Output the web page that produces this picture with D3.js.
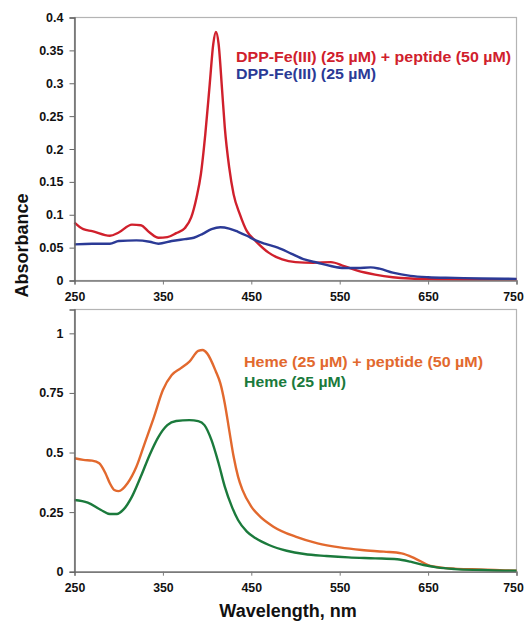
<!DOCTYPE html>
<html>
<head>
<meta charset="utf-8">
<script src="https://cdn.jsdelivr.net/npm/d3@7"></script>
<style>
  html, body { margin: 0; padding: 0; background: #fff; }
  svg { display: block; }
  text { font-family: "Liberation Sans", Arial, sans-serif; font-weight: bold; }
</style>
</head>
<body>
<svg id="chart" width="526" height="622"></svg>
<script>
// ---- Data ----
const xTicks = [250, 350, 450, 550, 650, 750];
const topYTicks = [0, 0.05, 0.1, 0.15, 0.2, 0.25, 0.3, 0.35, 0.4];
const bottomYTicks = [0, 0.25, 0.5, 0.75, 1];

// Top panel: DPP-Fe(III) (25 µM) + peptide (50 µM)
const dppPeptideWl = [250,260,270,290,300,315,325,335,345,355,365,375,382,388,393,398,403,407,410,413,417,420,425,430,437,445,455,470,485,500,520,540,555,570,590,610,630,660,700,750];
const dppPeptideAbs = [0.088,0.078,0.075,0.068,0.073,0.085,0.084,0.073,0.065,0.066,0.072,0.080,0.096,0.126,0.162,0.223,0.299,0.360,0.378,0.360,0.289,0.233,0.172,0.131,0.101,0.075,0.060,0.042,0.032,0.028,0.027,0.028,0.022,0.015,0.009,0.005,0.003,0.002,0.0015,0.0015];

// Top panel: DPP-Fe(III) (25 µM)
const dppWl = [250,270,290,300,320,335,345,360,375,385,395,405,415,425,435,445,455,465,480,495,510,525,540,555,570,585,595,610,630,650,680,710,750];
const dppAbs = [0.055,0.056,0.056,0.060,0.061,0.059,0.056,0.060,0.063,0.065,0.071,0.078,0.081,0.079,0.074,0.068,0.061,0.056,0.050,0.041,0.032,0.027,0.022,0.019,0.019,0.020,0.018,0.012,0.007,0.005,0.004,0.003,0.0025];

// Bottom panel: Heme (25 µM) + peptide (50 µM)
const hemePeptideWl = [250,260,270,278,285,290,295,300,310,320,330,340,350,360,370,380,390,395,400,410,415,420,425,430,435,440,450,460,475,500,525,550,575,600,620,635,650,665,680,700,725,750];
const hemePeptideAbs = [0.476,0.469,0.466,0.455,0.413,0.371,0.343,0.338,0.371,0.440,0.545,0.650,0.762,0.825,0.853,0.881,0.926,0.930,0.916,0.839,0.790,0.706,0.594,0.483,0.399,0.343,0.273,0.231,0.189,0.147,0.119,0.102,0.091,0.084,0.077,0.056,0.028,0.017,0.013,0.010,0.007,0.004];

// Bottom panel: Heme (25 µM)
const hemeWl = [250,265,280,290,298,305,315,325,335,345,355,365,380,390,397,405,413,420,428,435,445,455,470,490,510,535,560,590,615,630,645,660,680,710,740,750];
const hemeAbs = [0.301,0.290,0.259,0.242,0.242,0.259,0.315,0.399,0.490,0.566,0.615,0.632,0.636,0.632,0.615,0.552,0.455,0.357,0.273,0.217,0.168,0.140,0.112,0.088,0.074,0.066,0.060,0.056,0.052,0.042,0.028,0.018,0.011,0.007,0.004,0.004];

const topLegend = ["DPP-Fe(III) (25 \u00B5M) + peptide (50 \u00B5M)", "DPP-Fe(III) (25 \u00B5M)"];
const bottomLegend = ["Heme (25 \u00B5M) + peptide (50 \u00B5M)", "Heme (25 \u00B5M)"];
const yLabel = "Absorbance";
const xLabel = "Wavelength, nm";

// ---- Drawing ----
const svg = d3.select("#chart");
const x = d3.scaleLinear().domain([250, 750]).range([74.5, 516.5]);
const yTop = d3.scaleLinear().domain([0, 0.4]).range([280.5, 17.5]);
const yBot = d3.scaleLinear().domain([0, 1.1]).range([571.7, 309.5]);

const fmt = d => d === 0 ? "0" : String(+d.toFixed(2));

function panel(y, yTicks, series, legend, legendPos, legendWidths) {
  const g = svg.append("g");
  // frame
  g.append("rect")
    .attr("x", x.range()[0]).attr("y", y.range()[1])
    .attr("width", x.range()[1] - x.range()[0])
    .attr("height", y.range()[0] - y.range()[1])
    .attr("fill", "none").attr("stroke", "#b4b4b4").attr("stroke-width", 1.2);

  const line = d3.line().curve(d3.curveMonotoneX);
  series.forEach(s => {
    const pts = s.wl.map((w, i) => [x(w), y(s.abs[i])]);
    g.append("path").attr("d", line(pts))
      .attr("fill", "none").attr("stroke", s.color)
      .attr("stroke-width", 2.4).attr("stroke-linejoin", "round");
  });

  const xa = g.append("g").attr("transform", `translate(0,${y.range()[0]})`)
    .call(d3.axisBottom(x).tickValues(xTicks).tickSize(4).tickPadding(8).tickFormat(d3.format("d")));
  xa.select(".domain").attr("stroke", "#7a7a7a").attr("stroke-width", 1.5);
  xa.selectAll(".tick line").attr("stroke", "#7a7a7a");
  xa.selectAll("text").attr("font-size", 12.3).attr("fill", "#111")
    .style("font-family", "'Liberation Sans', Arial, sans-serif").style("font-weight", "bold")
    .attr("x", d => d === 750 ? -3.5 : 0);

  const ya = g.append("g").attr("transform", `translate(${x.range()[0]},0)`)
    .call(d3.axisLeft(y).tickValues(yTicks).tickSize(5).tickPadding(6).tickFormat(fmt));
  ya.select(".domain").attr("stroke", "#666").attr("stroke-width", 1.5);
  ya.selectAll(".tick line").attr("stroke", "#666");
  ya.selectAll("text").attr("font-size", 12.5).attr("fill", "#111")
    .style("font-family", "'Liberation Sans', Arial, sans-serif").style("font-weight", "bold");

  legend.forEach((t, i) => {
    g.append("text").attr("x", legendPos[0]).attr("y", legendPos[1] + i * legendPos[2])
      .attr("font-size", 15).attr("fill", series[i].color)
      .attr("textLength", legendWidths[i]).attr("lengthAdjust", "spacingAndGlyphs")
      .text(t);
  });
}

panel(yTop, topYTicks, [
  {wl: dppPeptideWl, abs: dppPeptideAbs, color: "#d0202c"},
  {wl: dppWl, abs: dppAbs, color: "#2b3a96"}
], topLegend, [236, 62, 17], [275, 140]);

panel(yBot, bottomYTicks, [
  {wl: hemePeptideWl, abs: hemePeptideAbs, color: "#e2692e"},
  {wl: hemeWl, abs: hemeAbs, color: "#1b7a3c"}
], bottomLegend, [244, 367, 19.5], [239, 102]);

svg.append("text").attr("transform", "translate(28,245.5) rotate(-90)")
  .attr("text-anchor", "middle").attr("font-size", 18).attr("fill", "#111").text(yLabel);
svg.append("text").attr("x", 288).attr("y", 617)
  .attr("text-anchor", "middle").attr("font-size", 18).attr("fill", "#111").text(xLabel);
</script>
</body>
</html>
